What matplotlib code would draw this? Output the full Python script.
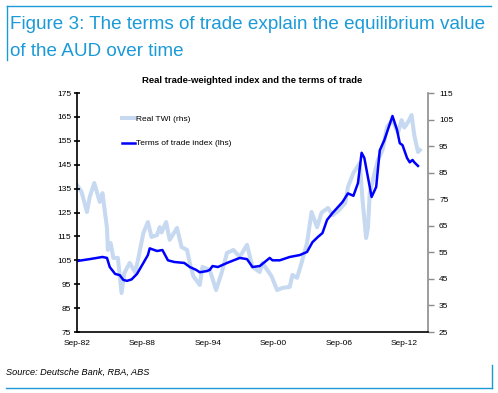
import matplotlib
matplotlib.use("Agg")
import matplotlib.pyplot as plt
import pandas as pd

plt.rcParams['font.family'] = ['Liberation Sans', 'DejaVu Sans']

# Terms of trade index (lhs)
tot_dates = ['1982-09', '1983-11', '1985-01', '1985-06', '1985-09', '1986-03', '1986-08',
             '1986-12', '1987-04', '1987-09', '1988-03', '1988-10', '1989-03', '1989-05',
             '1990-01', '1990-07', '1991-01', '1991-08', '1992-07', '1993-01', '1993-08',
             '1993-12', '1994-08', '1994-11', '1995-02', '1995-08', '1996-06', '1997-08',
             '1998-04', '1998-10', '1999-06', '2000-05', '2000-08', '2001-04', '2002-03',
             '2003-02', '2003-10', '2004-04', '2004-10', '2005-03', '2005-08', '2006-02',
             '2007-01', '2007-07', '2008-01', '2008-06', '2008-10', '2009-01', '2009-09',
             '2010-02', '2010-06', '2010-11', '2011-08', '2012-01', '2012-04', '2012-07',
             '2012-12', '2013-03', '2013-06', '2013-08', '2013-12']
tot_values = [104.7, 105.5, 106.4, 106.0, 102.2, 99.3, 98.8,
              96.8, 96.4, 97.0, 99.3, 103.9, 107.2, 110.0,
              108.9, 109.3, 105.0, 104.3, 103.9, 102.2, 101.0,
              100.0, 100.5, 101.0, 102.6, 102.2, 103.9, 106.0,
              105.5, 102.2, 102.6, 106.0, 105.0, 105.0, 106.4,
              107.2, 108.5, 112.6, 114.8, 116.4, 121.9, 124.8,
              129.4, 133.0, 132.0, 137.3, 150.0, 147.8, 131.5,
              135.7, 151.0, 155.3, 165.4, 159.5, 154.0, 153.2,
              147.8, 146.0, 147.0, 146.0, 144.5]

# Real TWI (rhs)
twi_dates = ['1982-09', '1983-02', '1983-08', '1983-11', '1984-04', '1984-10', '1985-01',
             '1985-06', '1985-07', '1985-10', '1986-01', '1986-06', '1986-10', '1987-01',
             '1987-07', '1988-01', '1988-04', '1988-10', '1989-03', '1989-07', '1990-01',
             '1990-04', '1990-06', '1990-11', '1991-03', '1991-11', '1992-04', '1992-10',
             '1993-01', '1993-05', '1993-12', '1994-03', '1994-11', '1995-06', '1995-12',
             '1996-06', '1997-01', '1997-08', '1998-04', '1998-10', '1999-06', '1999-09',
             '2000-07', '2001-01', '2001-07', '2002-03', '2002-06', '2002-11', '2003-04',
             '2003-10', '2004-03', '2004-09', '2005-02', '2005-09', '2006-02', '2006-08',
             '2007-04', '2007-07', '2008-01', '2008-05', '2008-08', '2008-11', '2009-03',
             '2009-05', '2009-07', '2010-01', '2010-04', '2010-09', '2011-02', '2011-08',
             '2012-02', '2012-06', '2012-09', '2013-01', '2013-05', '2013-08', '2013-12',
             '2014-02']
twi_values = [80.4, 77.7, 70.2, 75.8, 81.1, 74.0, 77.3,
              64.2, 55.9, 58.5, 52.9, 52.9, 39.7, 47.2,
              51.0, 47.5, 52.0, 62.3, 66.4, 60.8, 61.5,
              64.5, 62.5, 66.4, 59.7, 64.2, 57.0, 55.9,
              51.0, 46.0, 42.7, 49.5, 48.4, 40.8, 47.2,
              54.8, 55.9, 53.3, 57.8, 49.5, 47.6, 51.0,
              46.0, 40.8, 41.6, 42.0, 46.5, 45.4, 51.0,
              58.5, 70.2, 64.5, 70.0, 71.7, 69.0, 70.5,
              73.6, 79.6, 84.9, 87.0, 88.6, 74.7, 60.4,
              64.2, 77.3, 86.0, 89.8, 93.5, 102.2, 104.8,
              100.0, 104.8, 102.0, 104.0, 106.7, 99.0, 92.8,
              93.5]

tick_dates = ['1982-09', '1988-09', '1994-09', '2000-09', '2006-09', '2012-09']
tick_labels = ['Sep-82', 'Sep-88', 'Sep-94', 'Sep-00', 'Sep-06', 'Sep-12']

head_blue = '#1b9ad8'
twi_color = '#c6d9f1'
tot_color = '#0000ff'

fig = plt.figure(figsize=(4.98, 3.93), dpi=100)
ax = fig.add_axes([0.1546, 0.1552, 0.7048, 0.6081])
ax2 = ax.twinx()

l_twi, = ax2.plot(pd.to_datetime(twi_dates), twi_values, color=twi_color, lw=2.9,
                  solid_joinstyle='round', label='Real TWI (rhs)')
l_tot, = ax.plot(pd.to_datetime(tot_dates), tot_values, color=tot_color, lw=1.8,
                 solid_joinstyle='round', label='Terms of trade index (lhs)')
# terms of trade drawn above the TWI line
ax.set_zorder(ax2.get_zorder() + 1)
ax.patch.set_visible(False)

ax.set_xlim(pd.Timestamp('1982-09-01'), pd.Timestamp('2014-11-01'))
ax.set_ylim(75, 175)
ax2.set_ylim(25, 115)
ax.set_yticks(range(75, 176, 10))
ax2.set_yticks(range(25, 116, 10))
ax.set_xticks(pd.to_datetime(tick_dates))
ax.set_xticklabels(tick_labels)

for s in ['top', 'right']:
    ax.spines[s].set_visible(False)
ax2.spines['top'].set_visible(False)
ax2.spines['left'].set_visible(False)
ax2.spines['bottom'].set_visible(False)
ax.spines['left'].set_linewidth(1.2)
ax.spines['bottom'].set_linewidth(1.2)
ax2.spines['right'].set_color('#8c8c8c')
ax2.spines['right'].set_linewidth(1.2)

ax.tick_params(axis='y', direction='inout', length=4, width=1.2, labelsize=6, pad=2)
ax.tick_params(axis='x', length=0, labelsize=6, pad=6)
ax2.tick_params(axis='y', direction='out', length=4, width=1.0, color='#8c8c8c',
                labelsize=6, pad=4)

fig.legend([l_twi, l_tot], ['Real TWI (rhs)', 'Terms of trade index (lhs)'],
           loc='upper left', bbox_to_anchor=(0.245, 0.706), frameon=False,
           fontsize=6, handlelength=1.6, handletextpad=0.1, labelspacing=1.95,
           borderpad=0, borderaxespad=0)

fig.text(0.506, 0.794, 'Real trade-weighted index and the terms of trade',
         ha='center', va='center', fontsize=6.8, fontweight='bold')

fig.text(0.02, 0.926, 'Figure 3: The terms of trade explain the equilibrium value',
         color=head_blue, fontsize=13.6, ha='left', va='baseline')
fig.text(0.02, 0.858, 'of the AUD over time',
         color=head_blue, fontsize=13.6, ha='left', va='baseline')

fig.text(0.012, 0.053, 'Source: Deutsche Bank, RBA, ABS', fontsize=6.6,
         style='italic', ha='left', va='center')

# frame lines
fig.add_artist(plt.Line2D([0.014, 0.985], [0.985, 0.985], color=head_blue, lw=1.0))
fig.add_artist(plt.Line2D([0.014, 0.014], [0.985, 0.847], color=head_blue, lw=1.0))
fig.add_artist(plt.Line2D([0.012, 0.988], [0.013, 0.013], color=head_blue, lw=1.0))
fig.add_artist(plt.Line2D([0.988, 0.988], [0.013, 0.071], color=head_blue, lw=1.0))

fig.savefig('out.png', dpi=100)
